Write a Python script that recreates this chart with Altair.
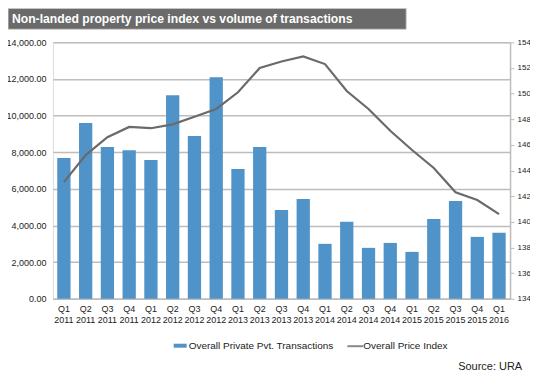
import altair as alt
import pandas as pd

quarters = ["Q1 2011", "Q2 2011", "Q3 2011", "Q4 2011",
            "Q1 2012", "Q2 2012", "Q3 2012", "Q4 2012",
            "Q1 2013", "Q2 2013", "Q3 2013", "Q4 2013",
            "Q1 2014", "Q2 2014", "Q3 2014", "Q4 2014",
            "Q1 2015", "Q2 2015", "Q3 2015", "Q4 2015",
            "Q1 2016"]
transactions = [7680, 9590, 8280, 8110, 7570, 11110, 8880, 12090, 7080, 8280,
                4850, 5450, 3000, 4200, 2780, 3050, 2560, 4360, 5340, 3380, 3600]
price_index = [143.1, 145.2, 146.6, 147.4, 147.3, 147.6, 148.2, 148.8, 150.1, 152.0,
               152.5, 152.9, 152.3, 150.2, 148.8, 147.1, 145.6, 144.2, 142.3, 141.7, 140.6]

title_text = "Non-landed property price index vs volume of transactions"
legend_bar = "Overall Private Pvt. Transactions"
legend_line = "Overall Price Index"
source_text = "Source: URA"

df = pd.DataFrame({"q": quarters, "t": transactions, "p": price_index})

W, H = 458, 257
PAD_L, PAD_T = 45, 34
BAR = "#4f93c8"
LINE = "#6a6a6a"
FONT = "Liberation Sans"

xenc = alt.X("q:N", sort=quarters, title=None,
             scale=alt.Scale(paddingInner=0.39, paddingOuter=0.2),
             axis=alt.Axis(labelAngle=0, labelExpr="split(datum.label, ' ')",
                           labelFontSize=9, labelColor="#222", labelFont=FONT,
                           labelLineHeight=11, labelPadding=6, ticks=False,
                           domainColor="#bdbdbd", domainWidth=1.5, grid=False))

bars = alt.Chart(df).mark_bar(color=BAR).encode(
    x=xenc,
    y=alt.Y("t:Q", title=None, scale=alt.Scale(domain=[0, 14000], nice=False),
            axis=alt.Axis(values=list(range(0, 14001, 2000)), format=",.2f",
                          labelFontSize=9, labelColor="#222", labelFont=FONT,
                          labelPadding=7, ticks=False, domain=False,
                          gridColor="#bdbdbd", gridWidth=1.5)),
)

line = alt.Chart(df).mark_line(color=LINE, strokeWidth=2.2).encode(
    x=alt.X("q:N", sort=quarters),
    y=alt.Y("p:Q", title=None, scale=alt.Scale(domain=[134, 154], nice=False),
            axis=alt.Axis(orient="right", values=list(range(134, 155, 2)),
                          labelFontSize=8, labelColor="#222", labelFont=FONT,
                          tickColor="#bdbdbd", tickSize=4, labelPadding=3,
                          domainColor="#bdbdbd", domainWidth=1.5, grid=False)),
)

# decorations: title box, legend, source
one = pd.DataFrame({"k": [0]})
title_box = alt.Chart(one).mark_rect(fill="#6a6a6a", stroke="#d0d0d0", strokeWidth=1).encode(
    x=alt.value(-45), x2=alt.value(354), y=alt.value(-34), y2=alt.value(-13))
title_txt = alt.Chart(one).mark_text(text=title_text, color="white", fontWeight="bold",
                                     font="Liberation Sans Narrow, Liberation Sans",
                                     fontSize=12.2, align="left",
                                     baseline="middle").encode(
    x=alt.value(-41), y=alt.value(-23.5))
leg_rect = alt.Chart(one).mark_rect(fill=BAR).encode(
    x=alt.value(121), x2=alt.value(134), y=alt.value(302), y2=alt.value(306))
leg_txt1 = alt.Chart(one).mark_text(text=legend_bar, color="#222", font=FONT, fontSize=10,
                                    align="left", baseline="middle").encode(
    x=alt.value(136), y=alt.value(304.5))
leg_line = alt.Chart(one).mark_rule(color="#888", strokeWidth=2).encode(
    x=alt.value(295), x2=alt.value(311), y=alt.value(304.5))
leg_txt2 = alt.Chart(one).mark_text(text=legend_line, color="#222", font=FONT, fontSize=10,
                                    align="left", baseline="middle").encode(
    x=alt.value(311), y=alt.value(304.5))
src = alt.Chart(one).mark_text(text=source_text, color="#222", font=FONT, fontSize=11,
                               align="left", baseline="middle").encode(
    x=alt.value(406), y=alt.value(325))

chart = alt.layer(
    alt.layer(bars, line).resolve_scale(y="independent"),
    title_box, title_txt, leg_rect, leg_txt1, leg_line, leg_txt2, src,
).properties(
    width=W, height=H,
    autosize=alt.AutoSizeParams(type="none"),
    padding={"left": PAD_L, "top": PAD_T, "right": 20, "bottom": 74},
).configure_view(stroke=None).configure(background="white")

chart.save("out.html", embed_options={"renderer": "svg", "actions": False})
